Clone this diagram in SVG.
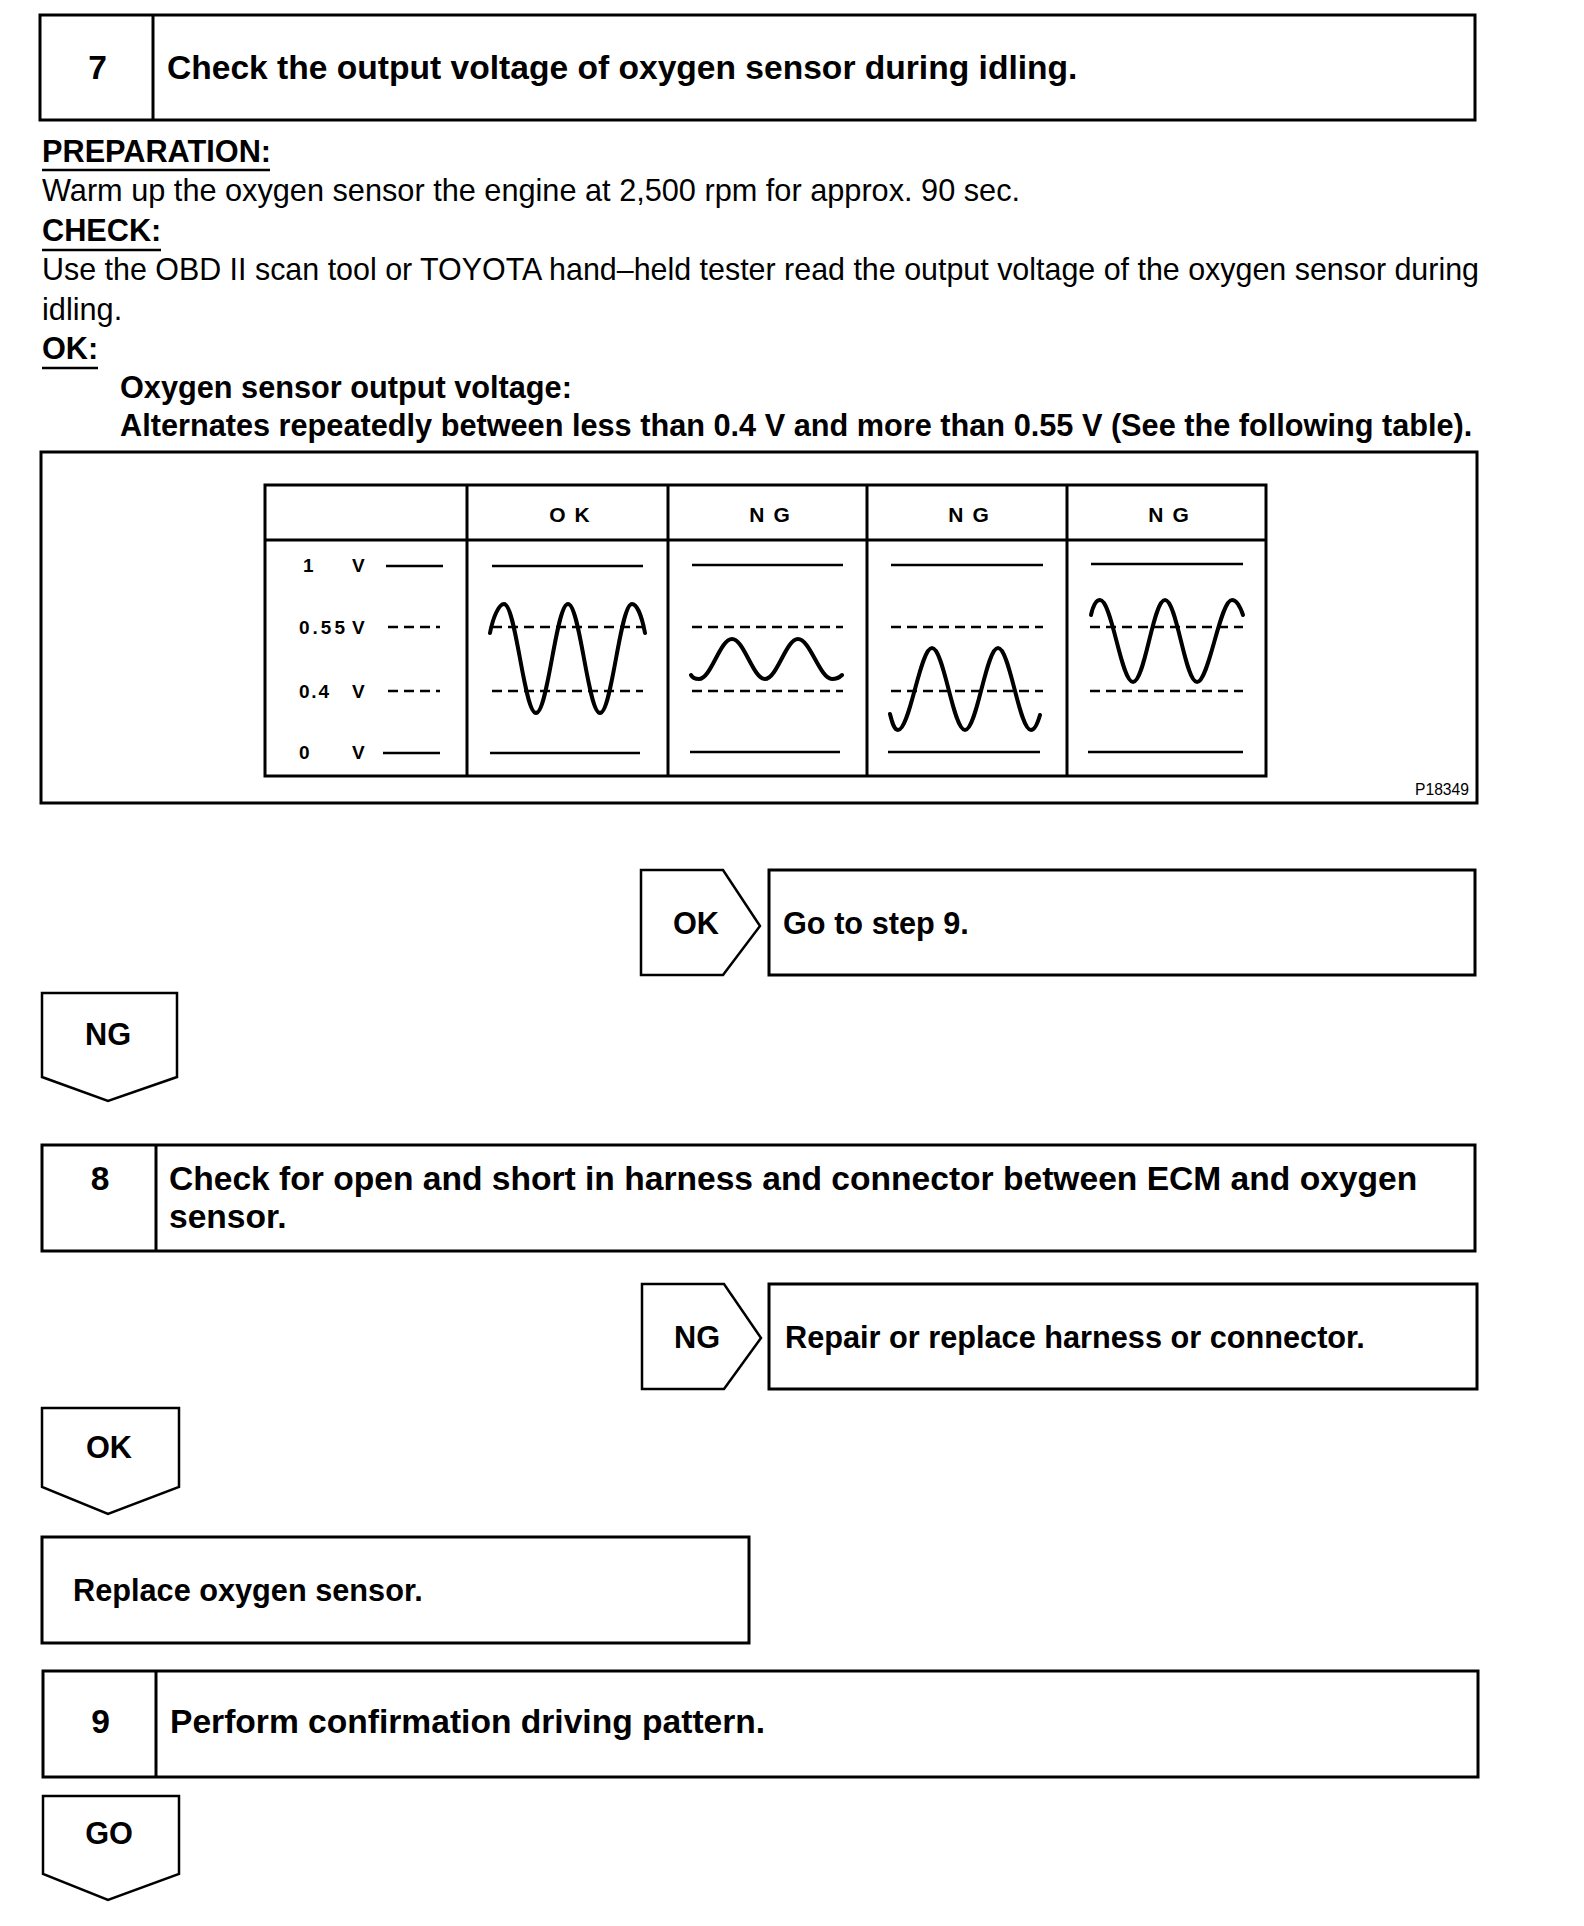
<svg xmlns="http://www.w3.org/2000/svg" width="1584" height="1926" viewBox="0 0 1584 1926">
<style>
  .box{fill:#fff;stroke:#000;stroke-width:3}
  .tag{fill:#fff;stroke:#000;stroke-width:2.5;stroke-linejoin:miter}
  .t{font-family:"Liberation Sans",Arial,sans-serif;fill:#000}
  .b{font-weight:bold}
  .title{font-size:33.6px;font-weight:bold}
  .body{font-size:30.7px}
  .bb{font-size:30.7px;font-weight:bold}
  .flow{font-size:30.7px;font-weight:bold}
  .ul{stroke:#000;stroke-width:2.5}
  .grid{fill:none;stroke:#000;stroke-width:3}
  .ref{stroke:#000;stroke-width:2.5;fill:none}
  .dash{stroke:#000;stroke-width:2.5;fill:none;stroke-dasharray:10 6}
  .wave{stroke:#000;stroke-width:4;fill:none;stroke-linecap:round;stroke-linejoin:round}
  .lbl{font-size:19px;font-weight:bold}
  .hdr{font-size:21px;font-weight:bold;letter-spacing:9px}
</style>
<rect width="1584" height="1926" fill="#fff"/>

<g id="step7">
  <rect class="box" x="40" y="15" width="1435" height="105"/>
  <line x1="153" y1="15" x2="153" y2="120" stroke="#000" stroke-width="3"/>
  <text class="t title" x="97.5" y="79" text-anchor="middle">7</text>
  <text class="t title" x="167" y="79">Check the output voltage of oxygen sensor during idling.</text>
</g>

<g id="notes7">
  <text class="t bb" x="42" y="162">PREPARATION:</text>
  <line class="ul" x1="42" y1="170" x2="270" y2="170"/>
  <text class="t body" x="42" y="201">Warm up the oxygen sensor the engine at 2,500 rpm for approx. 90 sec.</text>
  <text class="t bb" x="42" y="241">CHECK:</text>
  <line class="ul" x1="42" y1="250" x2="161" y2="250"/>
  <text class="t body" x="42" y="280" textLength="1437" lengthAdjust="spacingAndGlyphs">Use the OBD II scan tool or TOYOTA hand–held tester read the output voltage of the oxygen sensor during</text>
  <text class="t body" x="42" y="320">idling.</text>
  <text class="t bb" x="42" y="359">OK:</text>
  <line class="ul" x1="42" y1="368" x2="98" y2="368"/>
  <text class="t bb" x="120" y="398">Oxygen sensor output voltage:</text>
  <text class="t bb" x="120" y="436">Alternates repeatedly between less than 0.4 V and more than 0.55 V (See the following table).</text>
</g>

<g id="figure">
  <rect class="box" x="41" y="452" width="1436" height="351"/>
  <rect class="grid" x="265" y="485" width="1001" height="291"/>
  <line class="grid" x1="265" y1="540" x2="1266" y2="540"/>
  <line class="grid" x1="467" y1="485" x2="467" y2="776"/>
  <line class="grid" x1="668" y1="485" x2="668" y2="776"/>
  <line class="grid" x1="867" y1="485" x2="867" y2="776"/>
  <line class="grid" x1="1067" y1="485" x2="1067" y2="776"/>

  <text class="t hdr" x="574" y="522" text-anchor="middle">OK</text>
  <text class="t hdr" x="774" y="522" text-anchor="middle">NG</text>
  <text class="t hdr" x="973" y="522" text-anchor="middle">NG</text>
  <text class="t hdr" x="1173" y="522" text-anchor="middle">NG</text>

  <text class="t lbl" x="303" y="572">1</text>
  <text class="t lbl" x="352" y="572">V</text>
  <line class="ref" x1="386" y1="566" x2="443" y2="566"/>
  <text class="t lbl" x="299" y="634" textLength="46" lengthAdjust="spacing">0.55</text>
  <text class="t lbl" x="352" y="634">V</text>
  <line class="dash" x1="388" y1="627" x2="440" y2="627"/>
  <text class="t lbl" x="299" y="698" textLength="30" lengthAdjust="spacing">0.4</text>
  <text class="t lbl" x="352" y="698">V</text>
  <line class="dash" x1="388" y1="691" x2="440" y2="691"/>
  <text class="t lbl" x="299" y="759">0</text>
  <text class="t lbl" x="352" y="759">V</text>
  <line class="ref" x1="383" y1="753" x2="440" y2="753"/>

  <line class="ref" x1="492" y1="566" x2="643" y2="566"/>
  <line class="dash" x1="492" y1="627" x2="643" y2="627"/>
  <line class="dash" x1="492" y1="691" x2="643" y2="691"/>
  <line class="ref" x1="490" y1="753" x2="640" y2="753"/>
  <path class="wave" d="M490,633 C493,617 499,604 504,604 C516,604 524,713 536,713 C548,713 556,604 568,604 C580,604 588,713 600,713 C612,713 620,604 632,604 C637,604 642,617 645,633"/>

  <line class="ref" x1="692" y1="565" x2="843" y2="565"/>
  <line class="dash" x1="692" y1="627" x2="843" y2="627"/>
  <line class="dash" x1="692" y1="691" x2="843" y2="691"/>
  <line class="ref" x1="690" y1="752" x2="840" y2="752"/>
  <path class="wave" d="M691,675 C693,679 696,679 699,679 C711,679 720,639 732,639 C744,639 753,679 765,679 C777,679 786,639 798,639 C810,639 820,679 832,679 C836,679 840,677 842,675"/>

  <line class="ref" x1="891" y1="565" x2="1043" y2="565"/>
  <line class="dash" x1="891" y1="627" x2="1043" y2="627"/>
  <line class="dash" x1="891" y1="691" x2="1043" y2="691"/>
  <line class="ref" x1="888" y1="752" x2="1040" y2="752"/>
  <path class="wave" d="M890,714 C892,722 894,730 898,730 C910,730 920,648 932,648 C944,648 953,730 965,730 C977,730 986,648 998,648 C1010,648 1019,730 1031,730 C1035,730 1038,722 1040,715"/>

  <line class="ref" x1="1091" y1="564" x2="1243" y2="564"/>
  <line class="dash" x1="1090" y1="627" x2="1243" y2="627"/>
  <line class="dash" x1="1090" y1="691" x2="1243" y2="691"/>
  <line class="ref" x1="1088" y1="752" x2="1243" y2="752"/>
  <path class="wave" d="M1091,615 C1093,606 1096,600 1100,600 C1112,600 1121,682 1133,682 C1145,682 1153,600 1165,600 C1177,600 1185,682 1197,682 C1209,682 1220,600 1232,600 C1236,600 1240,606 1243,615"/>

  <text class="t" font-size="17" x="1415" y="795" textLength="54" lengthAdjust="spacingAndGlyphs">P18349</text>
</g>

<g id="ok7">
  <polygon class="tag" points="641,870 723,870 760,926 723,975 641,975"/>
  <text class="t flow" x="696" y="934" text-anchor="middle">OK</text>
</g>
<g id="goto9">
  <rect class="box" x="769" y="870" width="706" height="105"/>
  <text class="t flow" x="783" y="934">Go to step 9.</text>
</g>

<g id="ng7">
  <polygon class="tag" points="42,993 177,993 177,1077 108,1101 42,1077"/>
  <text class="t flow" x="108" y="1045" text-anchor="middle">NG</text>
</g>

<g id="step8">
  <rect class="box" x="42" y="1145" width="1433" height="106"/>
  <line x1="156" y1="1145" x2="156" y2="1251" stroke="#000" stroke-width="3"/>
  <text class="t title" x="100" y="1190" text-anchor="middle">8</text>
  <text class="t title" x="169" y="1190">Check for open and short in harness and connector between ECM and oxygen</text>
  <text class="t title" x="169" y="1228">sensor.</text>
</g>

<g id="ng8">
  <polygon class="tag" points="642,1284 724,1284 761,1338 724,1389 642,1389"/>
  <text class="t flow" x="697" y="1348" text-anchor="middle">NG</text>
</g>
<g id="repair">
  <rect class="box" x="769" y="1284" width="708" height="105"/>
  <text class="t flow" x="785" y="1348">Repair or replace harness or connector.</text>
</g>

<g id="ok8">
  <polygon class="tag" points="42,1408 179,1408 179,1487 108,1514 42,1487"/>
  <text class="t flow" x="109" y="1458" text-anchor="middle">OK</text>
</g>

<g id="replace">
  <rect class="box" x="42" y="1537" width="707" height="106"/>
  <text class="t flow" x="73" y="1601">Replace oxygen sensor.</text>
</g>

<g id="step9">
  <rect class="box" x="43" y="1671" width="1435" height="106"/>
  <line x1="156" y1="1671" x2="156" y2="1777" stroke="#000" stroke-width="3"/>
  <text class="t title" x="100.5" y="1733" text-anchor="middle">9</text>
  <text class="t title" x="170" y="1733">Perform confirmation driving pattern.</text>
</g>

<g id="go9">
  <polygon class="tag" points="43,1796 179,1796 179,1874 108,1900 43,1874"/>
  <text class="t flow" x="109" y="1844" text-anchor="middle">GO</text>
</g>

<g id="connectors"/>
</svg>
